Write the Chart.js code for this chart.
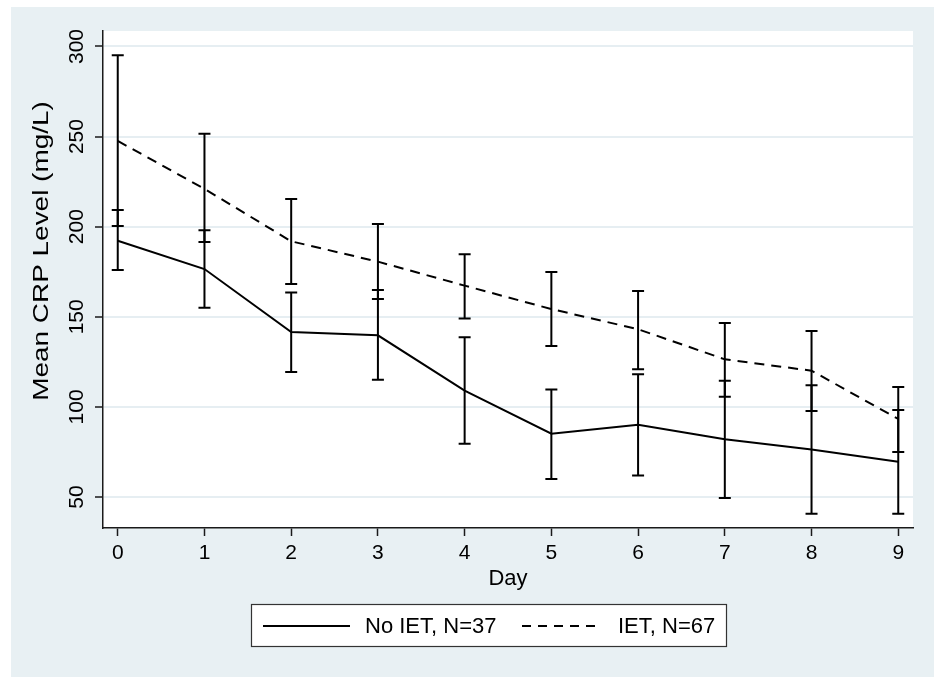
<!DOCTYPE html>
<html><head><meta charset="utf-8">
<script src="https://cdn.jsdelivr.net/npm/chart.js@4.4.0/dist/chart.umd.min.js"></script>
<style>html,body{margin:0;padding:0;background:#fff;} canvas{display:block;}</style>
</head><body>
<canvas id="c" width="934" height="677"></canvas>
<script>
// ---- data ----
const days = [0,1,2,3,4,5,6,7,8,9];
const noIetMean = [192.2,176.5,141.6,139.7,109.0,85.1,90.1,82.0,76.3,69.6];
const noIetLow  = [176.0,155.0,119.4,115.1,79.6,60.0,62.0,49.4,40.7,40.7];
const noIetHigh = [209.3,198.0,163.5,164.9,138.6,109.6,118.1,114.5,112.0,98.3];
const ietMean = [247.6,221.0,191.9,180.6,167.3,154.3,143.1,126.4,120.1,93.3];
const ietLow  = [200.4,191.5,168.2,159.9,149.0,133.8,120.9,105.7,97.7,75.0];
const ietHigh = [295.1,251.6,215.4,201.5,184.7,174.9,164.3,146.6,142.1,111.0];
const yTicks = [50,100,150,200,250,300];
const xTicks = [0,1,2,3,4,5,6,7,8,9];
const seriesNames = ['No IET, N=37','IET, N=67'];
const xTitle = 'Day';
const yTitle = 'Mean CRP Level (mg/L)';

const FONT = "'Liberation Sans', Arial, Helvetica, sans-serif";
const BG = 'rgb(232,240,243)';
const GRID = 'rgb(230,238,242)';
const AXIS = '#1a1a1a';

const toPts = (m) => days.map((d,i)=>({x:d, y:m[i]}));

const bgPlugin = {
  id:'bg',
  beforeDraw(chart){
    const {ctx, chartArea:a} = chart;
    ctx.save();
    ctx.fillStyle = '#fff';
    ctx.fillRect(0,0,chart.width,chart.height);
    ctx.fillStyle = BG;
    ctx.fillRect(11,7,chart.width-11,chart.height-7);
    ctx.fillStyle = '#fff';
    ctx.fillRect(a.left,a.top,a.right-a.left,a.bottom-a.top);
    ctx.restore();
  }
};

const errPlugin = {
  id:'err',
  afterDatasetsDraw(chart){
    const {ctx, scales:{x,y}} = chart;
    const sets = [[noIetLow,noIetHigh],[ietLow,ietHigh]];
    ctx.save();
    ctx.strokeStyle = '#000';
    ctx.lineWidth = 2;
    ctx.setLineDash([]);
    sets.forEach(([lo,hi])=>{
      days.forEach((d,i)=>{
        const px = x.getPixelForValue(d);
        const p1 = y.getPixelForValue(lo[i]);
        const p2 = y.getPixelForValue(hi[i]);
        ctx.beginPath();
        ctx.moveTo(px,p1); ctx.lineTo(px,p2);
        ctx.moveTo(px-6,p1); ctx.lineTo(px+6,p1);
        ctx.moveTo(px-6,p2); ctx.lineTo(px+6,p2);
        ctx.stroke();
      });
    });
    ctx.restore();
  }
};

const yLabelPlugin = {
  id:'ylab',
  afterDraw(chart){
    const {ctx, scales:{y}} = chart;
    ctx.save();
    ctx.fillStyle = '#000';
    ctx.font = '21px ' + FONT;
    ctx.textAlign = 'center';
    ctx.textBaseline = 'middle';
    yTicks.forEach(v=>{
      ctx.save();
      ctx.translate(77.5, y.getPixelForValue(v));
      ctx.rotate(-Math.PI/2);
      ctx.fillText(String(v),0,0);
      ctx.restore();
    });
    // y axis title (slightly wide lettering as in the reference)
    ctx.save();
    ctx.font = '22px ' + FONT;
    ctx.translate(42, 251);
    ctx.rotate(-Math.PI/2);
    ctx.scale(1.27, 1);
    ctx.fillText(yTitle, 0, 0);
    ctx.restore();
    ctx.restore();
  }
};

const legendPlugin = {
  id:'leg',
  afterDraw(chart){
    const ctx = chart.ctx;
    ctx.save();
    ctx.fillStyle = '#fff';
    ctx.fillRect(251,604,476,43);
    ctx.strokeStyle = '#333';
    ctx.lineWidth = 1.2;
    ctx.strokeRect(251.5,604.5,475,42);
    ctx.strokeStyle = '#000';
    ctx.lineWidth = 2;
    ctx.beginPath(); ctx.moveTo(263,626); ctx.lineTo(350,626); ctx.stroke();
    ctx.setLineDash([9,7]);
    ctx.beginPath(); ctx.moveTo(522,626); ctx.lineTo(602,626); ctx.stroke();
    ctx.setLineDash([]);
    ctx.fillStyle = '#000';
    ctx.font = '22px ' + FONT;
    ctx.textAlign = 'left';
    ctx.textBaseline = 'middle';
    ctx.fillText(seriesNames[0], 365, 627);
    ctx.fillText(seriesNames[1], 618, 627);
    ctx.restore();
  }
};

new Chart(document.getElementById('c'), {
  type:'line',
  data:{
    datasets:[
      {label:seriesNames[0], data:toPts(noIetMean), borderColor:'#000', borderWidth:2, pointRadius:0, fill:false, tension:0},
      {label:seriesNames[1], data:toPts(ietMean), borderColor:'#000', borderWidth:2, borderDash:[10,7], pointRadius:0, fill:false, tension:0}
    ]
  },
  options:{
    responsive:false, animation:false, devicePixelRatio:1,
    layout:{padding:{left:20, top:31, right:21, bottom:79}},
    plugins:{legend:{display:false}, tooltip:{enabled:false}},
    scales:{
      x:{
        type:'linear', min:-0.17, max:9.17,
        afterBuildTicks(s){ s.ticks = xTicks.map(v=>({value:v})); },
        afterFit(s){ s.height = 70; },
        grid:{drawOnChartArea:false, drawTicks:true, tickLength:8, tickColor:AXIS, tickWidth:1.5},
        border:{display:true, color:AXIS, width:1.5},
        ticks:{autoSkip:false, maxRotation:0, minRotation:0, padding:5, color:'#000', font:{family:FONT, size:21}},
        title:{display:true, text:xTitle, color:'#000', font:{family:FONT, size:22}, padding:{top:0,bottom:6}}
      },
      y:{
        type:'linear', min:32.8, max:308.6,
        afterBuildTicks(s){ s.ticks = yTicks.map(v=>({value:v})); },
        afterFit(s){ s.width = 83; },
        grid:{drawOnChartArea:true, color:GRID, lineWidth:2, drawTicks:true, tickLength:8, tickColor:AXIS, tickWidth:1.5},
        border:{display:true, color:AXIS, width:1.5},
        ticks:{display:false},
        title:{display:false, text:yTitle}
      }
    }
  },
  plugins:[bgPlugin, errPlugin, yLabelPlugin, legendPlugin]
});
</script>
</body></html>
